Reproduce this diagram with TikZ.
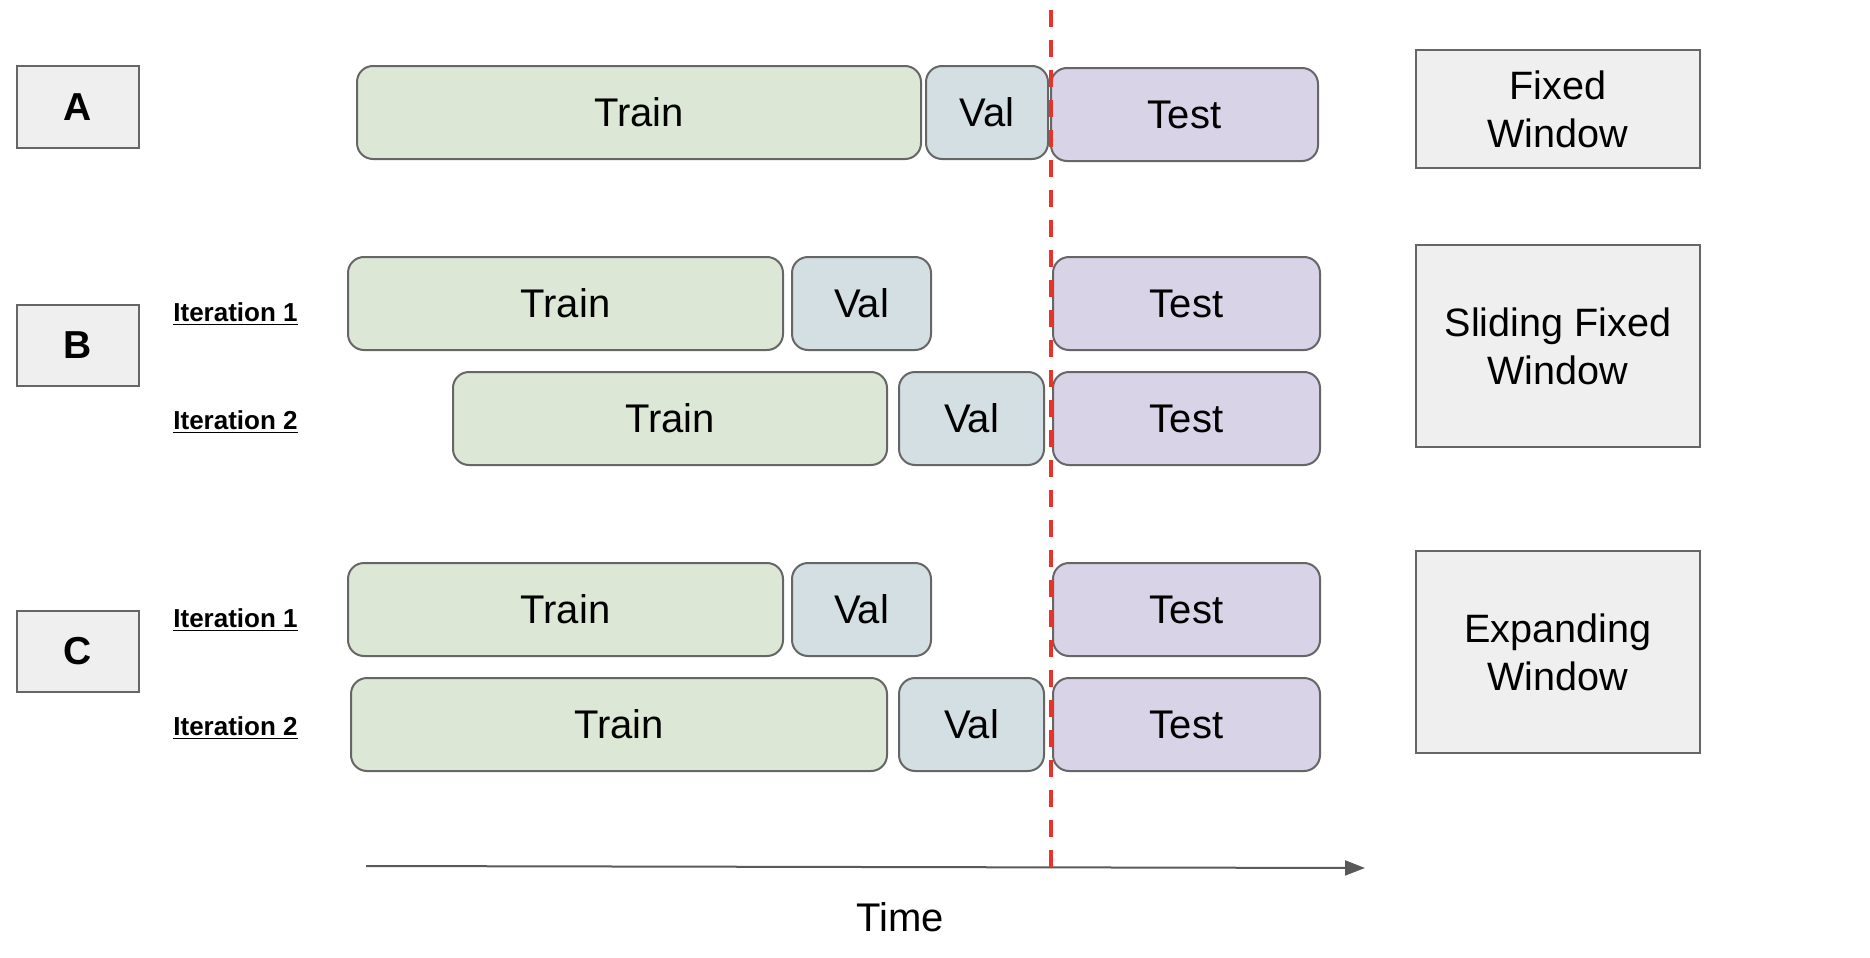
\documentclass[tikz,border=0pt]{standalone}
\usepackage{fontspec}
\setmainfont{Liberation Sans}
\usepackage{tikz}
\usetikzlibrary{positioning, arrows.meta}
\definecolor{linegray}{HTML}{666666}
\definecolor{boxgray}{HTML}{EFEFEF}
\definecolor{trainfill}{HTML}{DCE8D5}
\definecolor{valfill}{HTML}{D3DFE3}
\definecolor{testfill}{HTML}{D8D3E6}
\definecolor{cutred}{HTML}{E8332A}
\definecolor{axisgray}{HTML}{595959}
\newcommand{\ulabel}[1]{\setbox0\hbox{#1}\rlap{\rule[-2.2pt]{\wd0}{0.9pt}}\box0}
\tikzset{
seg/.style={draw=linegray, line width=1pt, rounded corners=8pt, inner sep=0, font=\fontsize{20}{24}\selectfont},
train/.style={seg, fill=trainfill}, val/.style={seg, fill=valfill}, test/.style={seg, fill=testfill},
tag/.style={draw=linegray, line width=1pt, fill=boxgray, inner sep=0, font=\fontsize{19.5}{23}\selectfont\bfseries},
method/.style={draw=linegray, line width=1pt, fill=boxgray, inner sep=0, align=center, font=\fontsize{19.8}{24}\selectfont},
iter/.style={anchor=base west, inner sep=0, font=\fontsize{13}{15}\selectfont\bfseries},
cutline/.style={draw=cutred, line width=2pt, dash pattern=on 8.5pt off 6.5pt},
timeaxis/.style={draw=axisgray, line width=1pt, -{Triangle[length=10pt, width=7.5pt]}}}

\begin{document}
\begin{tikzpicture}[x=0.5pt, y=-0.5pt]
\useasboundingbox (0,0) rectangle (1870,958);
% panel tags and method boxes
\foreach \s/\n/\xa/\xb/\ya/\yb/\t in {
    tag/tag-a/17/139/66/148/A, tag/tag-b/17/139/305/386/B, tag/tag-c/17/139/611/692/C,
    method/fixed/1416/1700/50/168/Fixed\\Window,
    method/sliding/1416/1700/245/447/Sliding Fixed\\Window,
    method/expanding/1416/1700/551/753/Expanding\\Window}{
      \node [\s, minimum width={(\xb-\xa)*0.5pt}, minimum height={(\yb-\ya)*0.5pt}]
        (\n) at ({(\xa+\xb)/2}, {(\ya+\yb)/2}) {\t};
}
% train / val / test segments
\foreach \s/\n/\xa/\xb/\ya/\yb/\t in {
    train/train-a/357/921/66/159/Train, val/val-a/926/1048/66/159/Val, test/test-a/1051/1318/68/161/Test,
    train/train-b1/348/783/257/350/Train, val/val-b1/792/931/257/350/Val, test/test-b1/1053/1320/257/350/Test,
    train/train-b2/453/887/372/465/Train, val/val-b2/899/1044/372/465/Val, test/test-b2/1053/1320/372/465/Test,
    train/train-c1/348/783/563/656/Train, val/val-c1/792/931/563/656/Val, test/test-c1/1053/1320/563/656/Test,
    train/train-c2/351/887/678/771/Train, val/val-c2/899/1044/678/771/Val, test/test-c2/1053/1320/678/771/Test}{
      \node [\s, minimum width={(\xb-\xa)*0.5pt}, minimum height={(\yb-\ya)*0.5pt}]
        (\n) at ({(\xa+\xb)/2}, {(\ya+\yb)/2}) {\t};
}
\foreach \k/\y/\i in {b1/321/1, b2/429/2, c1/627/1, c2/735/2}{
      \node [iter] (iter-\k) at (173, \y) {\ulabel{Iteration \i}};
}
% time axis
\coordinate (t-start) at (366, 866);
\coordinate (t-end) at (1365, 868);
\draw [timeaxis] (t-start) -- (t-end);
\node [font=\fontsize{20}{24}\selectfont] (time) at (900, 917) {Time};
% test cut-off
\coordinate (cut-top) at (1051, 10);
\coordinate (cut-bot) at (1051, 873);
\draw [cutline] (cut-top) -- (cut-bot);
\end{tikzpicture}
\end{document}
